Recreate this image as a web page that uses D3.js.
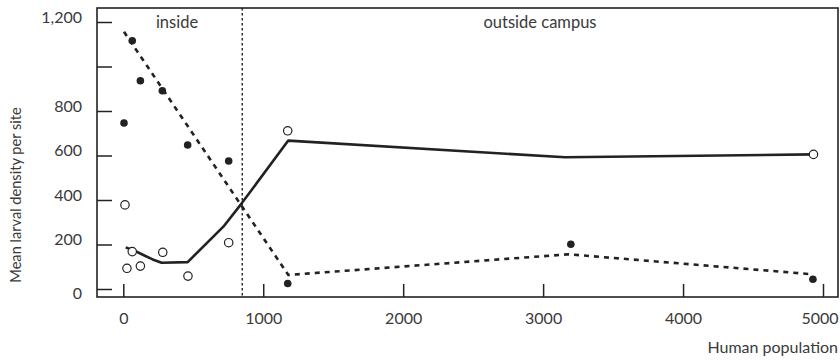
<!DOCTYPE html>
<html>
<head>
<meta charset="utf-8">
<script src="https://cdn.jsdelivr.net/npm/d3@7"></script>
<style>
  body { margin: 0; background: #fff; }
  svg text { font-family: Lato, "Noto Sans", sans-serif; fill: #3a3a3a; }
</style>
</head>
<body>
<svg id="chart" width="840" height="362"></svg>
<script>
// filled circles, dashed trend
let filledX = [5, 64, 122, 279, 460, 753, 1175, 3198, 4928];
let filledY = [746, 1116, 936, 891, 647, 575, 25, 201, 44];
// open circles, solid trend
let openX = [12, 26, 64, 122, 282, 462, 753, 1175, 4932];
let openY = [378, 93, 168, 103, 165, 58, 208, 711, 605];

let solidLineX = [17, 80, 143, 210, 274, 460, 715, 846, 1179, 3157, 4930];
let solidLineY = [187, 172, 153, 133, 118, 121, 280, 385, 667, 592, 605];
let dashedLineX = [5, 1179, 3181, 4928];
let dashedLineY = [1156, 63, 156, 66];

let xTicks = [0, 1000, 2000, 3000, 4000, 5000];
let yTicks = [0, 200, 400, 600, 800, 1000, 1200];
let yTickLabels = ["0", "200", "400", "600", "800", "", "1,200"];
let campusEdge = 850;

let svg = d3.select('#chart');
let frameL = 97, frameR = 838, frameT = 8, frameB = 297;

let x = d3.scaleLinear().domain([0, 5000]).range([123.3, 823]);
let y = d3.scaleLinear().domain([0, 1200]).range([289, 22]);

let ink = '#222';

// frame
svg.append('rect')
    .attr('x', frameL).attr('y', frameT)
    .attr('width', frameR - frameL).attr('height', frameB - frameT)
    .attr('fill', 'none').attr('stroke', ink).attr('stroke-width', 1.6);

// y axis (ticks pointing inward)
let yAxis = svg.append('g')
    .attr('transform', 'translate(' + frameL + ',0)')
    .call(d3.axisLeft(y).tickValues(yTicks).tickSize(-15).tickPadding(15)
        .tickFormat(function (d, i) { return yTickLabels[i]; }));
yAxis.select('.domain').remove();
yAxis.selectAll('line').attr('stroke', ink).attr('stroke-width', 1.5);
yAxis.selectAll('text')
    .attr('font-size', '16px')
    .attr('dy', function (d) { return d === 0 ? '0.6em' : '0em'; });

// x axis
let xAxis = svg.append('g')
    .attr('transform', 'translate(0,' + frameB + ')')
    .call(d3.axisBottom(x).tickValues(xTicks).tickSize(-13).tickPadding(16)
        .tickFormat(d3.format('d')));
xAxis.select('.domain').remove();
xAxis.selectAll('line').attr('stroke', ink).attr('stroke-width', 1.5);
xAxis.selectAll('text').attr('font-size', '16px');
// last label sits flush with the right edge
xAxis.selectAll('text')
    .filter(function (d) { return d === 5000; })
    .attr('text-anchor', 'end').attr('x', 15);

// campus boundary
svg.append('line')
    .attr('x1', x(campusEdge)).attr('x2', x(campusEdge))
    .attr('y1', frameT).attr('y2', frameB)
    .attr('stroke', ink).attr('stroke-width', 1.4)
    .attr('stroke-dasharray', '2.5,2.5');

// trend lines
let solidPts = solidLineX.map(function (d, i) { return [d, solidLineY[i]]; });
let dashedPts = dashedLineX.map(function (d, i) { return [d, dashedLineY[i]]; });
let line = d3.line()
    .x(function (d) { return x(d[0]); })
    .y(function (d) { return y(d[1]); });

svg.append('path')
    .attr('d', line(solidPts))
    .attr('fill', 'none').attr('stroke', ink).attr('stroke-width', 2.6)
    .attr('stroke-linejoin', 'round');
svg.append('path')
    .attr('d', line(dashedPts))
    .attr('fill', 'none').attr('stroke', ink).attr('stroke-width', 2.6)
    .attr('stroke-dasharray', '5,5');

// points
svg.append('g').selectAll('circle')
    .data(filledX)
    .enter()
    .append('circle')
    .attr('cx', function (d) { return x(d); })
    .attr('cy', function (d, i) { return y(filledY[i]); })
    .attr('r', 3.8)
    .attr('fill', ink);

svg.append('g').selectAll('circle')
    .data(openX)
    .enter()
    .append('circle')
    .attr('cx', function (d) { return x(d); })
    .attr('cy', function (d, i) { return y(openY[i]); })
    .attr('r', 4.2)
    .attr('fill', '#fff')
    .attr('stroke', ink).attr('stroke-width', 1.2);

// region labels
svg.append('text')
    .attr('x', 177).attr('y', 28)
    .attr('text-anchor', 'middle').attr('font-size', '16.5px')
    .text('inside');
svg.append('text')
    .attr('x', 540).attr('y', 28)
    .attr('text-anchor', 'middle').attr('font-size', '16.5px')
    .text('outside campus');

// axis titles
svg.append('text')
    .attr('x', 838).attr('y', 353)
    .attr('text-anchor', 'end').attr('font-size', '16px')
    .text('Human population');
svg.append('text')
    .attr('transform', 'translate(21,195) rotate(-90)')
    .attr('text-anchor', 'middle').attr('font-size', '14.6px')
    .text('Mean larval density per site');
</script>
</body>
</html>
